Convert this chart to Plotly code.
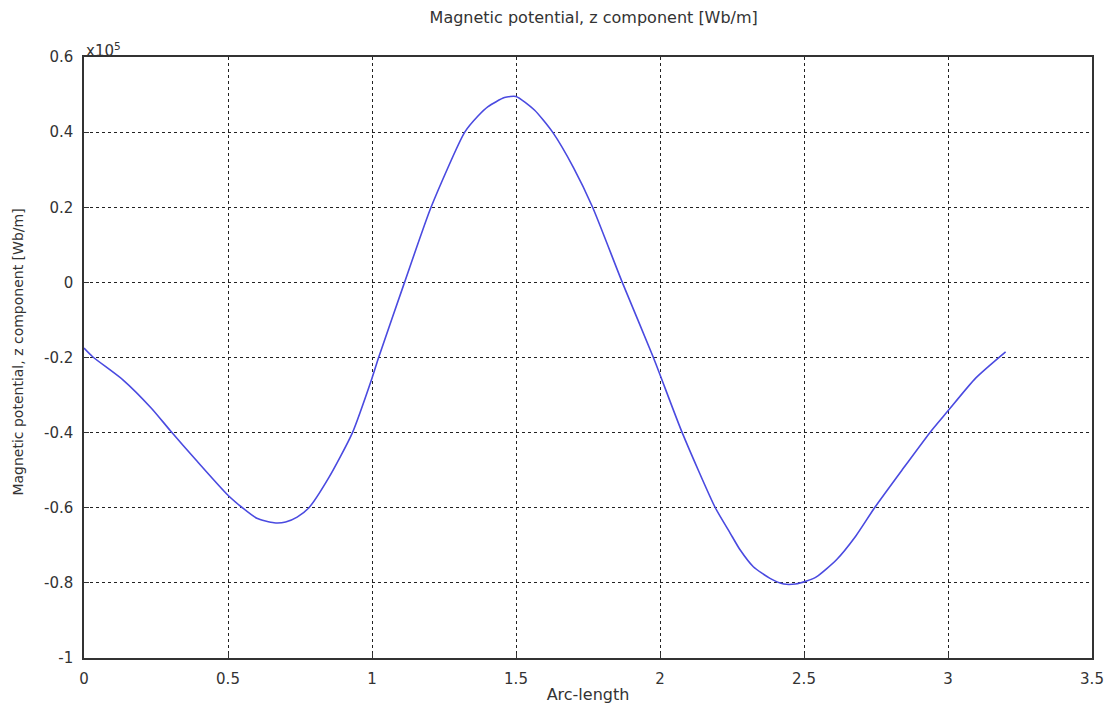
import plotly.graph_objects as go

# Arc-length along the boundary and the z component of the magnetic potential (units of 1e5 Wb/m)
arc_length = [0, 0.03, 0.136, 0.234, 0.30, 0.389, 0.499, 0.55, 0.60, 0.66, 0.70, 0.74, 0.781,
              0.85, 0.931, 1.0, 1.023, 1.113, 1.205, 1.322, 1.368, 1.403, 1.46, 1.50, 1.564,
              1.627, 1.70, 1.766, 1.869, 1.977, 2.077, 2.192, 2.244, 2.278, 2.324, 2.382, 2.43,
              2.47, 2.509, 2.543, 2.612, 2.68, 2.745, 2.84, 2.937, 2.998, 3.096, 3.2]
potential_e5 = [-0.175, -0.198, -0.26, -0.335, -0.395, -0.473, -0.566, -0.60, -0.628, -0.64,
                -0.638, -0.625, -0.60, -0.52, -0.402, -0.255, -0.20, 0.0, 0.2, 0.40, 0.443,
                0.468, 0.492, 0.495, 0.459, 0.40, 0.305, 0.20, 0.0, -0.2, -0.4, -0.6, -0.668,
                -0.712, -0.757, -0.788, -0.803, -0.803, -0.795, -0.784, -0.739, -0.675, -0.6,
                -0.5, -0.4, -0.344, -0.255, -0.185]

x_ticks = [0, 0.5, 1, 1.5, 2, 2.5, 3, 3.5]
x_tick_text = ["0", "0.5", "1", "1.5", "2", "2.5", "3", "3.5"]
y_ticks = [-1, -0.8, -0.6, -0.4, -0.2, 0, 0.2, 0.4, 0.6]
y_tick_text = ["-1", "-0.8", "-0.6", "-0.4", "-0.2", "0", "0.2", "0.4", "0.6"]

FONT = "DejaVu Sans, Verdana, sans-serif"
INK = "#333333"

fig = go.Figure()
fig.add_trace(go.Scatter(
    x=arc_length, y=potential_e5, mode="lines",
    line=dict(color="#4a4ae0", width=1.6, shape="spline", smoothing=0.6),
    showlegend=False, hoverinfo="x+y",
))

axis_common = dict(
    showline=True, linecolor=INK, linewidth=1.5, mirror=True,
    ticks="inside", ticklen=5, tickcolor=INK,
    showgrid=True, gridcolor="#222222", gridwidth=1, griddash="dot",
    zeroline=False, tickfont=dict(family=FONT, size=15, color=INK),
)

fig.update_layout(
    width=1116, height=713,
    margin=dict(l=84, r=19, t=57, b=55),
    paper_bgcolor="white", plot_bgcolor="white",
    font=dict(family=FONT, size=12, color=INK),
    title=dict(text="Magnetic potential, z component [Wb/m]", x=0.532, xanchor="center",
               y=0.976, yanchor="middle", font=dict(family=FONT, size=16, color=INK)),
    xaxis=dict(range=[0, 3.5], tickvals=x_ticks, ticktext=x_tick_text, ticklabelstandoff=6,
               title=dict(text="Arc-length", font=dict(family=FONT, size=16, color=INK), standoff=2),
               **axis_common),
    yaxis=dict(range=[-1, 0.6], tickvals=y_ticks, ticktext=y_tick_text, ticklabelstandoff=6,
               **axis_common),
    annotations=[
        dict(text="x10<sup>5</sup>", xref="paper", yref="paper", x=0, y=1,
             xanchor="left", yanchor="bottom", showarrow=False, yshift=-5,
             font=dict(family=FONT, size=15, color=INK)),
        # y-axis title placed near the left page edge
        dict(text="Magnetic potential, z component [Wb/m]", xref="paper", yref="paper",
             x=-0.065, y=0.509, xanchor="center", yanchor="middle", textangle=-90,
             showarrow=False, font=dict(family=FONT, size=14, color=INK)),
    ],
)

fig.write_html("out.html")
